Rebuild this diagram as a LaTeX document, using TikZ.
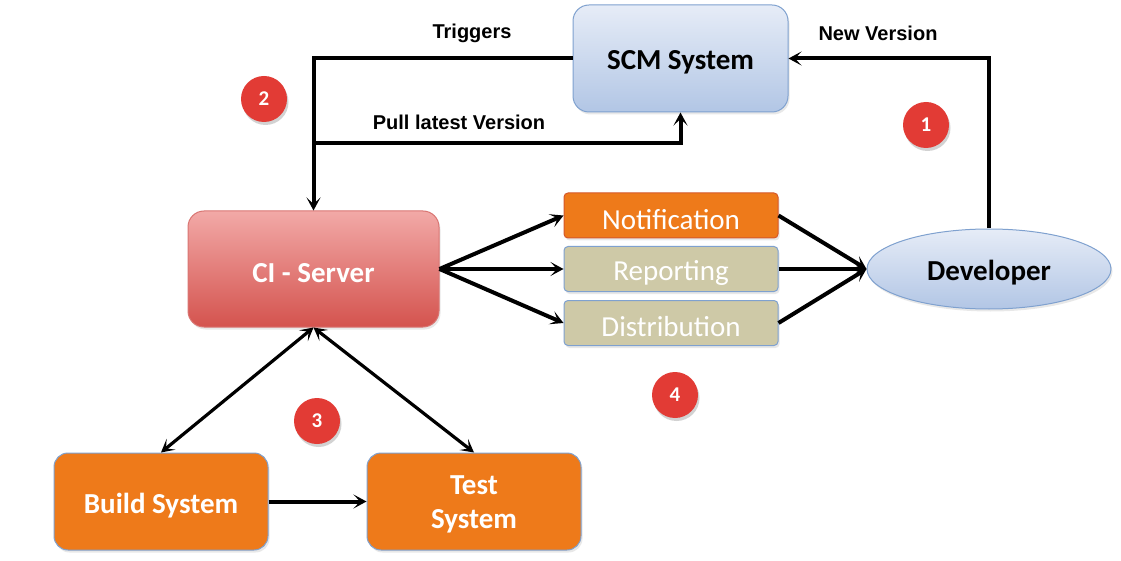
\documentclass[tikz,border=0pt]{standalone}
\usepackage{fontspec}
\setmainfont{Carlito}
\newfontfamily\arialfont{Liberation Sans}
\usetikzlibrary{shapes.geometric,arrows.meta,shadows}
\definecolor{bluetop}{HTML}{E6ECF7}
\definecolor{bluebot}{HTML}{B2C6E5}
\definecolor{blueline}{HTML}{7FA1CF}
\definecolor{redtop}{HTML}{F2A9A7}
\definecolor{redbot}{HTML}{D4534E}
\definecolor{redline}{HTML}{D97572}
\definecolor{orangefill}{HTML}{EE7A1A}
\definecolor{orangeline}{HTML}{D5582A}
\definecolor{khaki}{HTML}{CEC9A7}
\definecolor{badge}{HTML}{E23B35}
\newcommand{\dn}[1]{\raisebox{-4pt}[\height][\depth]{#1}}
\tikzset{
  softshadow/.style={drop shadow={opacity=0.18, shadow xshift=1.5pt, shadow yshift=-2.5pt}},
  bluebox/.style={draw=blueline, line width=1pt, rounded corners=16pt, top color=bluetop, bottom color=bluebot,
    font=\fontsize{29}{32}\selectfont\bfseries, text=black, softshadow},
  cibox/.style={draw=redline, line width=1pt, rounded corners=16pt, top color=redtop, bottom color=redbot,
    font=\fontsize{29}{32}\selectfont\bfseries, text=white, softshadow},
  orbox/.style={draw=blueline, line width=1pt, rounded corners=14pt, fill=orangefill,
    font=\fontsize{29}{32}\selectfont\bfseries, text=white, softshadow},
  smallbox/.style={line width=1pt, rounded corners=4pt, minimum width=214pt, minimum height=45pt,
    font=\fontsize{29}{32}\selectfont, text=white, inner sep=0pt, softshadow},
  badgec/.style={circle, fill=badge, minimum size=46pt, inner sep=0pt, text=white,
    font=\fontsize{21}{24}\selectfont\bfseries, drop shadow={opacity=0.35, shadow xshift=1.5pt, shadow yshift=-3pt}},
  lbl/.style={font=\arialfont\fontsize{20}{23}\selectfont\bfseries, text=black, inner sep=0pt},
  tip/.tip={Stealth[length=13pt,width=14pt,inset=6.5pt]},
  arr/.style={line width=4pt, -tip},
  arrboth/.style={line width=3.2pt, tip-tip}
}
\begin{document}
\begin{tikzpicture}[x=1pt,y=-1pt]
\useasboundingbox (0,0) rectangle (1121,561);
\fill[white] (0,0) rectangle (1121,561);

% nodes
\node[bluebox, minimum width=215pt, minimum height=107pt] (scm) at (680.5,58.5) {\dn{SCM System}};
\node[cibox, minimum width=251pt, minimum height=116pt] (ci) at (313.5,269) {\dn{CI - Server}};
\node[smallbox, draw=orangeline, fill=orangefill] (notif) at (671,215.5) {\dn{Notification}};
\node[smallbox, draw=blueline, fill=khaki] (rep) at (671,269) {\dn{Reporting}};
\node[smallbox, draw=blueline, fill=khaki] (dist) at (671,323) {\dn{Distribution}};
\node[ellipse, draw=blueline, line width=1pt, top color=bluetop, bottom color=bluebot,
      minimum width=244pt, minimum height=80pt, inner sep=0pt, softshadow,
      font=\fontsize{29}{32}\selectfont\bfseries] (dev) at (989,269) {\dn{Developer}};
\node[orbox, minimum width=214pt, minimum height=97pt] (build) at (161,501.5) {\dn{Build System}};
\node[orbox, minimum width=214pt, minimum height=97pt] (test) at (474,501.5)
  {\dn{\begin{tabular}{@{}c@{}}Test\\[2pt]System\end{tabular}}};

% badges
\node[badgec] (b1) at (926,125) {1};
\node[badgec] (b2) at (264,99) {2};
\node[badgec] (b3) at (317,421) {3};
\node[badgec] (b4) at (675,395) {4};

% labels
\node[lbl] (ltrig) at (472,33) {Triggers};
\node[lbl] (lnew) at (878,33) {New Version};
\node[lbl] (lpull) at (459,122) {Pull latest Version};

% connectors
\coordinate (pj) at (313.5,143);
\draw[arr] (scm.west) -| (ci.north);
\draw[arr] (pj) -| (scm.south);
\draw[arr] (dev.north) |- (scm.east);
\draw[arr] (ci.east) -- (notif.west);
\draw[arr] (ci.east) -- (rep.west);
\draw[arr] (ci.east) -- (dist.west);
\draw[arr] (notif.east) -- (dev.west);
\draw[arr] (rep.east) -- (dev.west);
\draw[arr] (dist.east) -- (dev.west);
\draw[arrboth] (ci.south) -- (build.north);
\draw[arrboth] (ci.south) -- (test.north);
\draw[arr] (build.east) -- (test.west);
\end{tikzpicture}
\end{document}
